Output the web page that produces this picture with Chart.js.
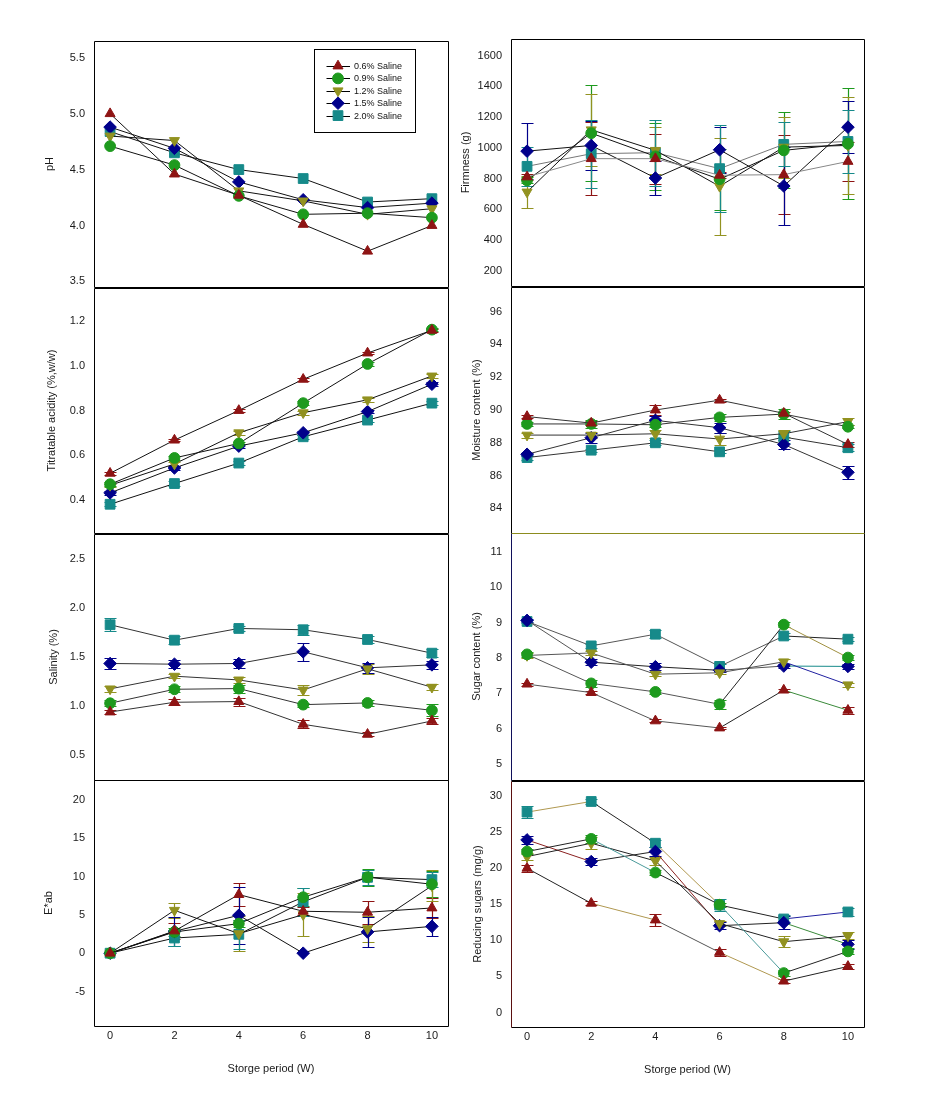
<!DOCTYPE html>
<html><head><meta charset="utf-8">
<script src="https://cdn.jsdelivr.net/npm/chart.js@4.4.1/dist/chart.umd.min.js"></script>
<style>
html,body{margin:0;padding:0;background:#fff;overflow:hidden;width:945px;height:1104px}
#wrap{position:relative;width:945px;height:1104px}
canvas{position:absolute}
</style></head>
<body><div id="wrap"></div>
<script>
// ---------- data ----------
const weeks = [0, 2, 4, 6, 8, 10];
const xTicks = [0, 2, 4, 6, 8, 10];
const seriesNames = ['0.6% Saline', '0.9% Saline', '1.2% Saline', '1.5% Saline', '2.0% Saline'];
const xTitle = 'Storge period (W)';

// series order: 0.6%, 0.9%, 1.2%, 1.5%, 2.0%
const phTicks = [3.5, 4.0, 4.5, 5.0, 5.5];
const phMean = [
  [5.00, 4.46, 4.27, 4.01, 3.77, 4.00],
  [4.71, 4.54, 4.265, 4.10, 4.11, 4.07],
  [4.80, 4.76, 4.31, 4.22, 4.10, 4.15],
  [4.88, 4.69, 4.39, 4.23, 4.16, 4.20],
  [4.84, 4.65, 4.50, 4.42, 4.21, 4.24]
];

const taTicks = [0.4, 0.6, 0.8, 1.0, 1.2];
const taMean = [
  [0.518, 0.667, 0.800, 0.940, 1.058, 1.160],
  [0.469, 0.587, 0.652, 0.833, 1.009, 1.163],
  [0.464, 0.560, 0.700, 0.790, 0.848, 0.955],
  [0.430, 0.542, 0.640, 0.700, 0.795, 0.918],
  [0.379, 0.472, 0.564, 0.682, 0.757, 0.833]
];
const taErr = [
  [0.006, 0.006, 0.006, 0.006, 0.006, 0.006],
  [0.008, 0.008, 0.008, 0.008, 0.008, 0.008],
  [0.008, 0.008, 0.008, 0.008, 0.008, 0.008],
  [0.008, 0.008, 0.008, 0.008, 0.008, 0.008],
  [0.010, 0.010, 0.010, 0.010, 0.010, 0.010]
];

const salTicks = [0.5, 1.0, 1.5, 2.0, 2.5];
const salMean = [
  [0.941, 1.040, 1.047, 0.816, 0.714, 0.850],
  [1.030, 1.172, 1.179, 1.016, 1.033, 0.958],
  [1.176, 1.305, 1.267, 1.165, 1.380, 1.193],
  [1.434, 1.427, 1.434, 1.553, 1.390, 1.420],
  [1.828, 1.671, 1.790, 1.777, 1.678, 1.539]
];
const salErr = [
  [0.02, 0.03, 0.04, 0.04, 0.02, 0.03],
  [0.03, 0.03, 0.04, 0.02, 0.03, 0.06],
  [0.03, 0.02, 0.03, 0.05, 0.05, 0.03],
  [0.055, 0.04, 0.05, 0.09, 0.05, 0.04],
  [0.065, 0.04, 0.03, 0.05, 0.04, 0.04]
];

const eTicks = [-5, 0, 5, 10, 15, 20];
const eMean = [
  [0, 2.90, 7.65, 5.47, 5.34, 5.90],
  [0, 2.77, 3.86, 7.30, 9.92, 9.00],
  [0, 5.60, 2.55, 5.03, 3.20, 8.80],
  [0, 2.85, 4.95, 0.00, 2.77, 3.50],
  [0, 1.98, 2.46, 6.70, 9.90, 9.60]
];
const eErr = [
  [0, 1.0, 1.45, 0.5, 1.5, 1.3],
  [0, 0.5, 0.5, 1.2, 1.1, 1.7],
  [0, 1.0, 2.3, 2.8, 1.7, 2.0],
  [0, 1.9, 3.7, 0, 2.0, 1.2],
  [0, 1.0, 1.9, 1.8, 1.0, 1.0]
];

const firmTicks = [200, 400, 600, 800, 1000, 1200, 1400, 1600];
const firmMean = [
  [810, 929, 929, 821, 825, 911],
  [788, 1095, 944, 795, 983, 1026],
  [712, 1117, 983, 749, 1004, 1015],
  [978, 1015, 803, 987, 751, 1134],
  [879, 961, 968, 864, 1022, 1041]
];
const firmErr = [
  [20, 238, 162, 20, 255, 127],
  [20, 311, 216, 200, 248, 360],
  [105, 233, 155, 316, 199, 314],
  [182, 162, 112, 150, 257, 169],
  [125, 220, 215, 281, 144, 205]
];

const moistTicks = [84, 86, 88, 90, 92, 94, 96];
const moistMean = [
  [89.60, 89.20, 90.00, 90.60, 89.80, 87.90],
  [89.15, 89.15, 89.10, 89.55, 89.75, 88.98],
  [88.47, 88.47, 88.55, 88.23, 88.55, 89.29],
  [87.30, 88.31, 89.37, 88.92, 87.90, 86.20],
  [87.10, 87.55, 88.00, 87.45, 88.35, 87.70]
];
const moistErr = [
  [0.10, 0.10, 0.30, 0.10, 0.10, 0.15],
  [0.10, 0.25, 0.15, 0.20, 0.30, 0.10],
  [0.15, 0.20, 0.25, 0.35, 0.20, 0.20],
  [0.10, 0.30, 0.25, 0.30, 0.30, 0.40],
  [0.15, 0.10, 0.15, 0.10, 0.35, 0.20]
];

const sugTicks = [5, 6, 7, 8, 9, 10, 11];
const sugMean = [
  [7.26, 7.02, 6.22, 6.02, 7.09, 6.52],
  [8.10, 7.28, 7.04, 6.69, 8.94, 8.01],
  [8.07, 8.14, 7.54, 7.58, 7.89, 7.24],
  [9.06, 7.88, 7.75, 7.65, 7.77, 7.76],
  [9.03, 8.34, 8.67, 7.76, 8.62, 8.53]
];
const sugErr = [
  [0.04, 0.04, 0.04, 0.04, 0.04, 0.10],
  [0.08, 0.10, 0.06, 0.12, 0.08, 0.08],
  [0.08, 0.06, 0.05, 0.04, 0.08, 0.06],
  [0.05, 0.08, 0.10, 0.05, 0.05, 0.08],
  [0.05, 0.06, 0.12, 0.06, 0.08, 0.05]
];

const rsTicks = [0, 5, 10, 15, 20, 25, 30];
const rsMean = [
  [19.94, 15.10, 12.79, 8.31, 4.34, 6.37],
  [22.25, 24.00, 19.35, 14.90, 5.45, 8.45],
  [21.55, 23.40, 20.95, 12.30, 9.79, 10.60],
  [23.86, 20.86, 22.25, 12.00, 12.42, 9.42],
  [27.70, 29.17, 23.40, 14.86, 12.93, 13.90]
];
const rsErr = [
  [0.5, 0.3, 0.8, 0.5, 0.3, 0.3],
  [0.4, 0.5, 0.4, 0.3, 0.4, 0.4],
  [0.5, 0.8, 0.5, 0.4, 0.8, 0.5],
  [0.5, 0.5, 0.6, 0.5, 0.9, 0.6],
  [0.8, 0.3, 0.5, 0.8, 0.6, 0.5]
];

// ---------- styles ----------
const COLORS = ['#8e1414', '#1e9a1e', '#929220', '#00008b', '#168a8a'];
const MARKERS = [
  {pointStyle: 'triangle', rotation: 0, radius: 5.8},
  {pointStyle: 'circle', rotation: 0, radius: 5.4},
  {pointStyle: 'triangle', rotation: 180, radius: 5.8},
  {pointStyle: 'rectRot', rotation: 0, radius: 6.3},
  {pointStyle: 'rect', rotation: 0, radius: 6.9}
];
const FONT = 'Liberation Sans, Arial, Helvetica, sans-serif';
const TXT = '#1a1a1a';
const COLS = [
  {left: 0, width: 460, boxLeft: 94, boxRight: 448},
  {left: 455, width: 420, boxLeft: 511, boxRight: 864}
];
const K = '#222', G = '#555', TAN = '#b09850', TEALL = '#4a9a9a', MAR = '#8a2020';
const rsSeg = [
  [K, TAN, G, TAN, K],
  [K, TEALL, K, TEALL, K],
  [K, K, K, K, K],
  [MAR, K, MAR, K, '#3a8a3a'],
  [TAN, K, TAN, K, '#2020a0']
];
const sugSeg = [
  [G, G, G, K, '#3a8a3a'],
  [G, G, G, K, '#a09040'],
  [G, G, G, G, '#2020a0'],
  [G, K, K, G, '#168a8a'],
  [G, G, G, G, K]
];
const firmLines = ['#888', '#111', '#111', '#111', '#777'];

const panels = [
  {col: 0, top: 41, bottom: 287, min: 3.45, max: 5.65, ticks: phTicks, dec: 1, title: 'pH', titleX: 50, mean: phMean, err: null, legend: true},
  {col: 0, top: 288, bottom: 533, min: 0.25, max: 1.35, ticks: taTicks, dec: 1, title: 'Titratable acidity (%,w/w)', titleX: 52, mean: taMean, err: taErr},
  {col: 0, top: 534, bottom: 780, min: 0.25, max: 2.75, ticks: salTicks, dec: 1, title: 'Salinity (%)', titleX: 54, mean: salMean, err: salErr, lineColor: '#333'},
  {col: 0, top: 780, bottom: 1026, min: -9.5, max: 22.6, ticks: eTicks, dec: 0, title: 'E*ab', titleX: 48.5, mean: eMean, err: eErr, showX: true},
  {col: 1, top: 39, bottom: 286, min: 100, max: 1708, ticks: firmTicks, dec: 0, title: 'Firmness (g)', titleX: 466, mean: firmMean, err: firmErr, lineColors: firmLines},
  {col: 1, top: 287, bottom: 533, min: 82.5, max: 97.5, ticks: moistTicks, dec: 0, title: 'Moisture content (%)', titleX: 477, mean: moistMean, err: moistErr, lineColor: '#333', frame: {bottom: '#8c8c1e'}},
  {col: 1, top: 533, bottom: 780, min: 4.55, max: 11.53, ticks: sugTicks, dec: 0, title: 'Sugar content (%)', titleX: 477, mean: sugMean, err: sugErr, seg: sugSeg, frame: {top: '#8c8c1e', left: '#10105a'}},
  {col: 1, top: 781, bottom: 1027, min: -2, max: 32, ticks: rsTicks, dec: 0, title: 'Reducing sugars (mg/g)', titleX: 478, mean: rsMean, err: rsErr, seg: rsSeg, showX: true, frame: {left: '#5a1010'}}
];

// ---------- plugins ----------
function drawMarker(ctx, m, color, x, y) {
  ctx.save();
  ctx.fillStyle = color; ctx.strokeStyle = color; ctx.lineWidth = 1;
  if (Chart.helpers && Chart.helpers.drawPoint) {
    Chart.helpers.drawPoint(ctx, {pointStyle: m.pointStyle, rotation: m.rotation, radius: m.radius, borderWidth: 1}, x, y);
  } else {
    ctx.beginPath(); ctx.arc(x, y, m.radius, 0, Math.PI * 2); ctx.fill();
  }
  ctx.restore();
}

const errorBars = {
  id: 'errorBars',
  beforeDatasetsDraw(chart) {
    const {ctx, scales: {x, y}} = chart;
    chart.data.datasets.forEach((ds) => {
      if (!ds.errors) return;
      ctx.save();
      ctx.strokeStyle = ds.errColor;
      ctx.lineWidth = 1.2;
      ds.data.forEach((pt, j) => {
        const e = ds.errors[j];
        if (!e) return;
        const px = Math.round(x.getPixelForValue(pt.x)) + 0.5;
        const t = Math.round(y.getPixelForValue(pt.y + e)) + 0.5;
        const b = Math.round(y.getPixelForValue(pt.y - e)) + 0.5;
        ctx.beginPath();
        ctx.moveTo(px, t); ctx.lineTo(px, b);
        ctx.moveTo(px - 6, t); ctx.lineTo(px + 6, t);
        ctx.moveTo(px - 6, b); ctx.lineTo(px + 6, b);
        ctx.stroke();
      });
      ctx.restore();
    });
  }
};

function makeFrame(fc) {
  return {
    id: 'frame',
    afterDraw(chart) {
      const {ctx, chartArea: a} = chart;
      const l = a.left + 0.5, r = a.right + 0.5, t = a.top + 0.5, b = a.bottom + 0.5;
      const c = Object.assign({top: '#000', right: '#000', bottom: '#000', left: '#000'}, fc || {});
      ctx.save(); ctx.lineWidth = 1;
      [[c.top, l, t, r, t], [c.right, r, t, r, b], [c.bottom, l, b, r, b], [c.left, l, t, l, b]].forEach(s => {
        ctx.strokeStyle = s[0]; ctx.beginPath(); ctx.moveTo(s[1], s[2]); ctx.lineTo(s[3], s[4]); ctx.stroke();
      });
      ctx.restore();
    }
  };
}

const legendBox = {
  id: 'legendBox',
  afterDraw(chart) {
    const {ctx, chartArea: a} = chart;
    const bx = a.left + 220.5, by = a.top + 8.5;
    ctx.save();
    ctx.strokeStyle = '#000'; ctx.lineWidth = 1;
    ctx.strokeRect(bx, by, 101, 83);
    const rows = [25, 37.4, 49.8, 62.2, 74.6];
    ctx.font = '9px ' + FONT;
    ctx.textBaseline = 'middle';
    seriesNames.forEach((name, i) => {
      const yy = a.top + rows[i];
      ctx.strokeStyle = '#000'; ctx.lineWidth = 1;
      ctx.beginPath(); ctx.moveTo(a.left + 232.5, Math.round(yy) + 0.5); ctx.lineTo(a.left + 256, Math.round(yy) + 0.5); ctx.stroke();
      drawMarker(ctx, MARKERS[i], COLORS[i], a.left + 244, yy);
      ctx.fillStyle = '#111';
      ctx.fillText(name, a.left + 260, yy + 0.5);
    });
    ctx.restore();
  }
};

// ---------- build charts ----------
const wrap = document.getElementById('wrap');
panels.forEach((p) => {
  const col = COLS[p.col];
  const padTop = 20, axisH = p.showX ? 50 : 0, padBottom = p.showX ? 4 : 20;
  const h = (p.bottom - p.top) + padTop + padBottom + axisH;
  const cv = document.createElement('canvas');
  cv.width = col.width; cv.height = h;
  cv.style.left = col.left + 'px'; cv.style.top = (p.top - padTop) + 'px';
  cv.style.width = col.width + 'px'; cv.style.height = h + 'px';
  wrap.appendChild(cv);

  const datasets = MARKERS.map((m, i) => {
    const ds = {
      label: seriesNames[i],
      data: weeks.map((w, j) => ({x: w, y: p.mean[i][j]})),
      errors: p.err ? p.err[i] : null,
      errColor: COLORS[i],
      borderColor: p.lineColors ? p.lineColors[i] : (p.lineColor || '#111'),
      borderWidth: 1,
      tension: 0,
      fill: false,
      pointStyle: m.pointStyle,
      pointRotation: m.rotation,
      pointRadius: m.radius,
      pointHoverRadius: m.radius,
      pointBackgroundColor: COLORS[i],
      pointBorderColor: COLORS[i],
      pointBorderWidth: 1,
      clip: false
    };
    if (p.seg) {
      const sc = p.seg[i];
      ds.segment = {borderColor: c => sc[c.p0DataIndex]};
    }
    return ds;
  });

  const plugins = [errorBars, makeFrame(p.frame)];
  if (p.legend) plugins.push(legendBox);

  new Chart(cv, {
    type: 'line',
    data: {datasets},
    plugins,
    options: {
      responsive: false,
      animation: false,
      devicePixelRatio: 1,
      events: [],
      layout: {padding: {left: 0, right: col.width - (col.boxRight - col.left), top: padTop, bottom: padBottom}},
      plugins: {legend: {display: false}, tooltip: {enabled: false}},
      scales: {
        x: {
          type: 'linear', min: -0.5, max: 10.5, display: !!p.showX,
          afterBuildTicks: s => { s.ticks = xTicks.map(v => ({value: v})); },
          afterFit: s => { s.height = axisH; },
          grid: {display: false, drawTicks: false}, border: {display: false},
          ticks: {padding: 3, color: TXT, maxRotation: 0, autoSkip: false, font: {family: FONT, size: 11}, callback: v => String(v)},
          title: {display: true, text: xTitle, color: TXT, font: {family: FONT, size: 11}, padding: {top: 0, bottom: 0}}
        },
        y: {
          type: 'linear', min: p.min, max: p.max,
          afterBuildTicks: s => { s.ticks = p.ticks.map(v => ({value: v})); },
          afterFit: s => { s.width = col.boxLeft - col.left; },
          grid: {display: false, drawTicks: false}, border: {display: false},
          ticks: {padding: 9, color: TXT, autoSkip: false, font: {family: FONT, size: 11}, callback: v => Number(v).toFixed(p.dec)},
          title: {display: true, text: p.title, color: TXT, font: {family: FONT, size: 11},
                  padding: {top: Math.max(0, p.titleX - col.left - 6.6), bottom: 0}}
        }
      }
    }
  });
});
</script>
</body></html>
